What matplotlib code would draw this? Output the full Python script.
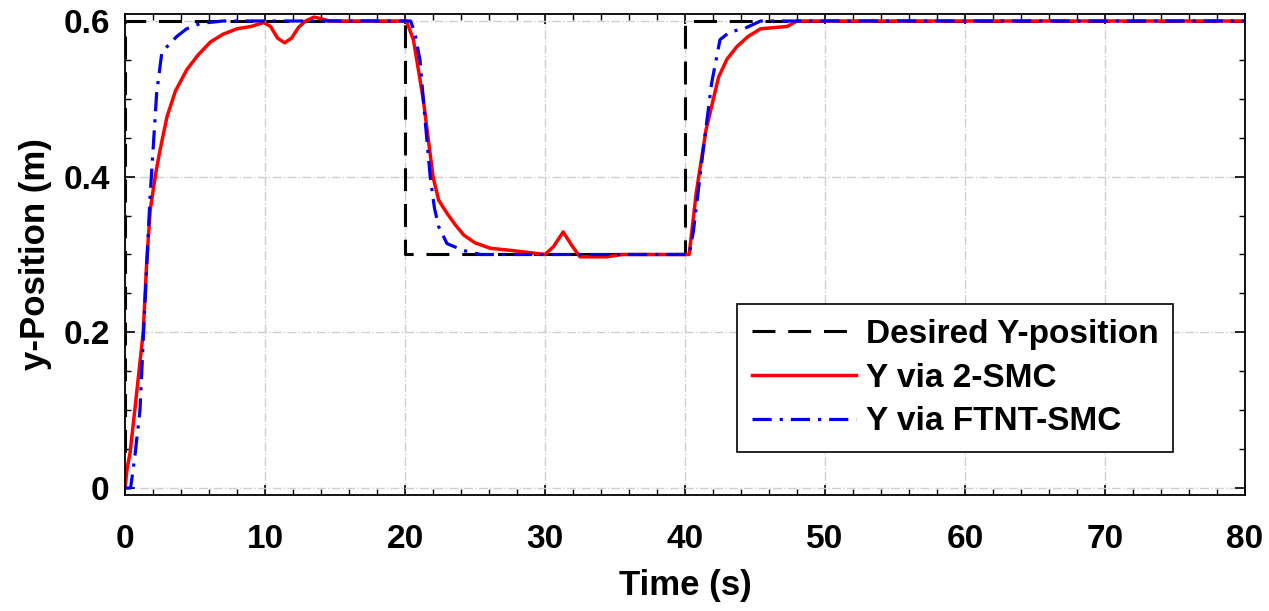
import numpy as np
import matplotlib.pyplot as plt
from matplotlib.ticker import MultipleLocator, FixedLocator, FixedFormatter

plt.rcParams['font.family'] = ['Liberation Sans', 'DejaVu Sans']
plt.rcParams['font.weight'] = 'bold'

# reference trajectory (step changes)
t_ref = [0, 0, 20, 20, 40, 40, 80]
y_ref = [0, 0.6, 0.6, 0.3, 0.3, 0.6, 0.6]

# response with 2-SMC
t_smc = [0, 0.15, 0.36, 0.7, 1.0, 1.3, 1.55, 1.8, 2.2, 2.5, 3.0, 3.6, 4.4, 5.2, 6.1,
         7.0, 8.0, 9.0, 9.9, 10.4, 10.9, 11.4, 11.9, 12.4, 12.9, 13.5, 14.0, 14.6,
         16.0, 20.1, 20.6, 21.3, 22.0, 22.4, 23.0, 23.6, 24.2, 25.0, 26.1, 27.7,
         30.0, 30.6, 31.3, 31.9, 32.5, 34.4, 35.5, 40.3, 40.8, 41.5, 42.4, 43.0,
         43.7, 44.5, 45.4, 47.3, 48.0, 80]
y_smc = [0, 0.025, 0.045, 0.1, 0.15, 0.2, 0.29, 0.357, 0.405, 0.434, 0.477, 0.51,
         0.537, 0.556, 0.573, 0.583, 0.59, 0.593, 0.598, 0.593, 0.578, 0.572, 0.578,
         0.592, 0.6, 0.605, 0.603, 0.6, 0.6, 0.6, 0.576, 0.5, 0.4, 0.37, 0.353,
         0.338, 0.325, 0.315, 0.308, 0.305, 0.3, 0.31, 0.329, 0.312, 0.297, 0.297,
         0.3, 0.3, 0.379, 0.46, 0.528, 0.551, 0.567, 0.58, 0.59, 0.593, 0.6, 0.6]

# response with FTNT-SMC
t_ftnt = [0, 0.4, 0.7, 1.07, 1.3, 1.79, 2.26, 2.62, 3.0, 3.69, 4.4, 5.4, 7.0,
          20.4, 20.7, 21.07, 21.4, 21.8, 22.1, 22.4, 23.0, 24.2, 25.4,
          40.3, 40.6, 41.3, 41.9, 42.5, 43.2, 44.2, 45.4, 80]
y_ftnt = [0, 0.0, 0.04, 0.1, 0.19, 0.374, 0.507, 0.558, 0.567, 0.58, 0.59, 0.597,
          0.6, 0.6, 0.585, 0.55, 0.48, 0.4, 0.36, 0.336, 0.314, 0.305, 0.3,
          0.3, 0.33, 0.434, 0.52, 0.576, 0.586, 0.59, 0.6, 0.6]

xticks = [0, 10, 20, 30, 40, 50, 60, 70, 80]
yticks = [0, 0.2, 0.4, 0.6]
ytick_labels = ['0', '0.2', '0.4', '0.6']

fig = plt.figure(figsize=(12.69, 6.11), dpi=100)
ax = fig.add_axes([125/1269, 116/611, 1120/1269, 481/611])

ax.plot(t_ref, y_ref, color='k', lw=2.2, dashes=(7.5, 4.2), label='Desired Y-position')
ax.plot(t_smc, y_smc, color='#ff0000', lw=2.5, label='Y via 2-SMC')
ax.plot(t_ftnt, y_ftnt, color='#0000ee', lw=2.3, dashes=(6, 2.5, 1, 2.5),
        label='Y via FTNT-SMC')

ax.set_xlim(0, 80)
ax.set_ylim(-0.009, 0.609)
ax.xaxis.set_major_locator(FixedLocator(xticks))
ax.xaxis.set_minor_locator(MultipleLocator(2))
ax.yaxis.set_major_locator(FixedLocator(yticks))
ax.yaxis.set_major_formatter(FixedFormatter(ytick_labels))
ax.yaxis.set_minor_locator(MultipleLocator(0.05))
ax.tick_params(which='both', direction='in', top=True, right=True, labelsize=24)
ax.tick_params(which='major', length=7, width=1.2)
ax.tick_params(axis='x', which='major', pad=21)
ax.tick_params(axis='y', which='major', pad=11)
ax.tick_params(which='minor', length=4, width=1)
for s in ax.spines.values():
    s.set_linewidth(1.3)

ax.grid(True, which='major', color='#cfcfcf', linestyle='-.', linewidth=1)

ax.set_xlabel('Time (s)', fontsize=25, fontweight='bold', labelpad=10)
ax.set_ylabel('y-Position (m)', fontsize=25, fontweight='bold', labelpad=8)

leg = ax.legend(loc='lower right', bbox_to_anchor=(0.936, 0.089), fontsize=24,
                fancybox=False, framealpha=1, edgecolor='k', handlelength=3.1,
                handletextpad=0.3, labelspacing=0.38, borderpad=0.45,
                borderaxespad=0)
leg.get_frame().set_linewidth(1.2)
for txt in leg.get_texts():
    txt.set_fontweight('bold')

fig.savefig('out.png', dpi=100)
